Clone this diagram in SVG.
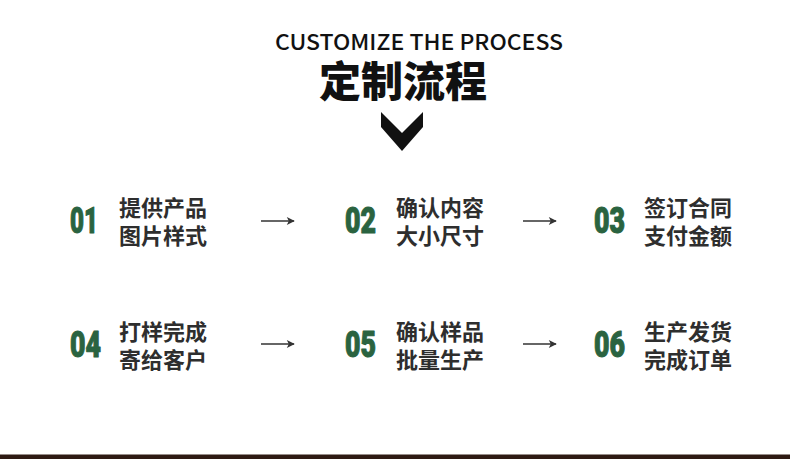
<svg xmlns="http://www.w3.org/2000/svg" width="790" height="459" viewBox="0 0 790 459">
<defs>
<style>
.num{font-family:"Roboto","Liberation Sans",sans-serif;font-weight:900;font-size:37px;fill:#2a6340;stroke:#2a6340;stroke-width:1.1;stroke-linejoin:round}
.lbl{font-family:"Noto Sans CJK SC","Noto Sans",sans-serif;font-weight:700;font-size:22px;fill:#2e2e2e}
.conn{stroke:#333;stroke-width:1.5;fill:none}
</style>
<marker id="ah" viewBox="0 0 10 10" refX="9" refY="5" markerWidth="10" markerHeight="8" markerUnits="userSpaceOnUse" orient="auto"><path d="M0,0 L10,5 L0,10 L2.5,5 Z" fill="#333"/></marker>
</defs>
<rect width="790" height="459" fill="#fff"/>
<g id="header">
<text x="419" y="50" text-anchor="middle" textLength="288" lengthAdjust="spacingAndGlyphs" style="font-family:'Noto Sans CJK SC','Noto Sans',sans-serif;font-weight:500;font-size:22px;fill:#111">CUSTOMIZE THE PROCESS</text>
<text x="403" y="97" text-anchor="middle" style="font-family:'Noto Sans CJK SC',sans-serif;font-weight:900;font-size:42px;fill:#111">定制流程</text>
<polygon points="381,112 402,133 423,112 423,127 402,151 381,127" fill="#111"/>
</g>
<g id="step01"><text class="num" x="70" y="233" textLength="28" lengthAdjust="spacingAndGlyphs">01</text><text class="lbl"><tspan x="119" y="216">提供产品</tspan><tspan x="119" y="244">图片样式</tspan></text></g>
<g id="step02"><text class="num" x="345" y="233" textLength="31" lengthAdjust="spacingAndGlyphs">02</text><text class="lbl"><tspan x="396" y="216">确认内容</tspan><tspan x="396" y="244">大小尺寸</tspan></text></g>
<g id="step03"><text class="num" x="594" y="233" textLength="31" lengthAdjust="spacingAndGlyphs">03</text><text class="lbl"><tspan x="644" y="216">签订合同</tspan><tspan x="644" y="244">支付金额</tspan></text></g>
<g id="step04"><text class="num" x="70" y="357" textLength="31" lengthAdjust="spacingAndGlyphs">04</text><text class="lbl"><tspan x="119" y="340">打样完成</tspan><tspan x="119" y="368">寄给客户</tspan></text></g>
<g id="step05"><text class="num" x="345" y="357" textLength="31" lengthAdjust="spacingAndGlyphs">05</text><text class="lbl"><tspan x="396" y="340">确认样品</tspan><tspan x="396" y="368">批量生产</tspan></text></g>
<g id="step06"><text class="num" x="594" y="357" textLength="31" lengthAdjust="spacingAndGlyphs">06</text><text class="lbl"><tspan x="644" y="340">生产发货</tspan><tspan x="644" y="368">完成订单</tspan></text></g>
<g id="connectors">
<line class="conn" x1="261" y1="221" x2="294" y2="221" marker-end="url(#ah)"/>
<line class="conn" x1="523" y1="221" x2="556" y2="221" marker-end="url(#ah)"/>
<line class="conn" x1="261" y1="344" x2="294" y2="344" marker-end="url(#ah)"/>
<line class="conn" x1="523" y1="344" x2="556" y2="344" marker-end="url(#ah)"/>
</g>
<rect x="0" y="454.5" width="790" height="4.5" fill="#2e1a13"/>
</svg>
